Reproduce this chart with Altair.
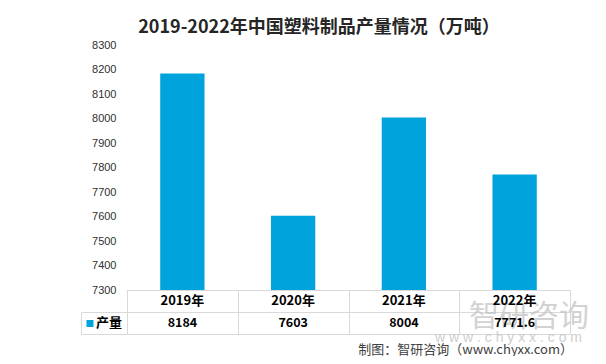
import altair as alt
import pandas as pd

# ---- data ----
years = ["2019年", "2020年", "2021年", "2022年"]
values = [8184, 7603, 8004, 7771.6]
value_labels = ["8184", "7603", "8004", "7771.6"]
y_ticks = [7300, 7400, 7500, 7600, 7700, 7800, 7900, 8000, 8100, 8200, 8300]
y_min, y_max = 7300, 8300
title_text = "2019-2022年中国塑料制品产量情况（万吨）"
series_name = "产量"
source_text = "制图：智研咨询（www.chyxx.com）"
wm_cn = "智研咨询"
wm_url = "w w w . c h y x x . c o m"

# ---- layout / style ----
W, H = 443, 245
BLUE = "#00A3DC"
GRID = "#d9d9d9"
CJK = "Noto Sans CJK SC"
LAT = "Liberation Sans"

df = pd.DataFrame({"year": years, "value": values, "label": value_labels})
one = pd.DataFrame({"a": [0]})

xscale = alt.Scale(domain=years, paddingInner=0.6, paddingOuter=0.3)
xenc = alt.X("year:N", scale=xscale, axis=None, sort=years)

bars = alt.Chart(df).mark_bar(color=BLUE).encode(
    x=xenc,
    y=alt.Y(
        "value:Q",
        scale=alt.Scale(domain=[y_min, y_max], nice=False, zero=False),
        axis=alt.Axis(
            values=y_ticks, format="d", title=None, ticks=False, domain=False, grid=False,
            labelPadding=11, labelFont=LAT, labelFontSize=11, labelColor="#303030",
        ),
    ),
    y2=alt.datum(y_min),
)

# table grid lines (pixel layout)
step = W / len(years)
row1, row2, row3 = H + 0.5, H + 22.5, H + 44.5
left = -45.5
segs = [
    (0, W + 0.5, row1, row1),
    (left, W + 0.5, row2, row2),
    (left, W + 0.5, row3, row3),
    (left, left, row2, row3),
]
for i in range(len(years) + 1):
    xx = round(i * step) + 0.5
    segs.append((xx, xx, row1, row3))

rules = [
    alt.Chart(one).mark_rule(color=GRID, strokeWidth=1).encode(
        x=alt.value(a), x2=alt.value(b), y=alt.value(c), y2=alt.value(d)
    )
    for a, b, c, d in segs
]

wm1 = alt.Chart(one).mark_text(
    font=CJK, fontSize=30, color="#c4c4c4", opacity=0.75, align="left", baseline="middle"
).encode(x=alt.value(342), y=alt.value(271.5), text=alt.value(wm_cn))
wm2 = alt.Chart(one).mark_text(
    font=LAT, fontSize=14, color="#c4c4c4", opacity=0.8, align="left", baseline="middle"
).encode(x=alt.value(308), y=alt.value(292.5), text=alt.value(wm_url))

header = alt.Chart(df).mark_text(
    font=CJK, fontSize=13, fontWeight="bold", color="#000000", baseline="middle"
).encode(x=xenc, y=alt.value(255.7), text="year:N")

vals = alt.Chart(df).mark_text(
    font=CJK, fontSize=12.5, fontWeight="bold", color="#000000", baseline="middle"
).encode(x=xenc, y=alt.value(278.3), text="label:N")

legend_sq = alt.Chart(one).mark_square(color=BLUE, size=49, opacity=1).encode(
    x=alt.value(-37), y=alt.value(278.5)
)
legend_tx = alt.Chart(one).mark_text(
    font=CJK, fontSize=13, fontWeight="bold", color="#000000", align="left", baseline="middle"
).encode(x=alt.value(-31), y=alt.value(278.3), text=alt.value(series_name))

title = alt.Chart(one).mark_text(
    font=CJK, fontSize=18, fontWeight="bold", color="#262626", align="center", baseline="middle"
).encode(x=alt.value(192), y=alt.value(-17.5), text=alt.value(title_text))

source = alt.Chart(one).mark_text(
    font=CJK, fontSize=13, color="#404040", align="right", baseline="middle"
).encode(x=alt.value(446), y=alt.value(304.5), text=alt.value(source_text))

chart = alt.layer(
    bars, *rules, wm1, wm2, header, vals, legend_sq, legend_tx, title, source
).properties(
    width=W,
    height=H,
    autosize=alt.AutoSizeParams(type="none"),
    padding={"left": 119, "top": 37, "right": 28, "bottom": 66},
    background="white",
).configure_view(stroke=None)

chart.save("out.html", embed_options={"renderer": "svg", "actions": False})
